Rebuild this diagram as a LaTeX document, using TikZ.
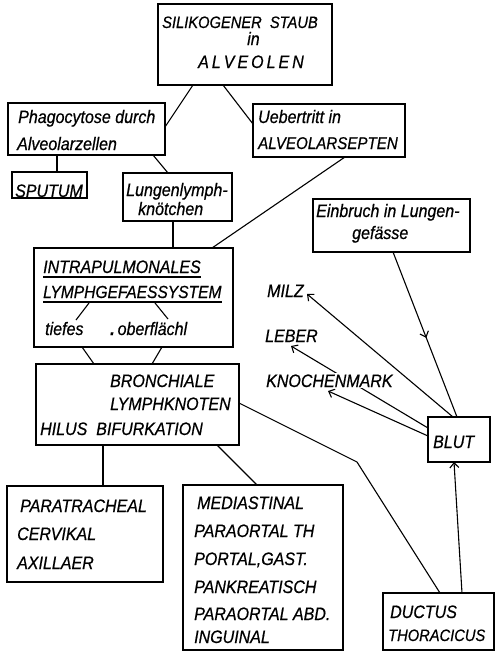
\documentclass[tikz,border=0pt]{standalone}
\usepackage{fontspec}
\setmainfont{Liberation Sans}[FakeStretch=0.89,FakeBold=0.6]
\usetikzlibrary{arrows.meta,decorations.markings,backgrounds}
\begin{document}
\begin{tikzpicture}[x=1pt,y=-1pt,
  box/.style={draw,line width=1.2pt,inner sep=0pt,outer sep=0pt},
  txt/.style={inner sep=0pt,anchor=base west,font=\itshape\fontsize{18}{21}\selectfont},
  lbl/.style={inner sep=0pt,anchor=base west,font=\itshape\fontsize{18}{21}\selectfont},
  con/.style={line width=1.1pt},
  arr/.style={line width=1.1pt,-{Straight Barb[length=5pt,width=9pt]}},
  midarr/.style={line width=1.1pt,postaction={decorate},
    decoration={markings,mark=at position 0.52 with {\arrow{Straight Barb[length=5pt,width=9pt]}}}}]
\begin{pgfonlayer}{background}
\fill[white] (0,0) rectangle (495,651);
\end{pgfonlayer}
\useasboundingbox (0,0) rectangle (495,651);

% boxes
\node[box,minimum width=174pt,minimum height=81pt] (top) at (245,44.5) {};
\node[box,minimum width=157pt,minimum height=52pt] (phago) at (86.5,129) {};
\node[box,minimum width=152pt,minimum height=53pt] (ueber) at (329,130.5) {};
\node[box,minimum width=75pt,minimum height=26pt] (sput) at (49.5,185) {};
\node[box,minimum width=109pt,minimum height=48pt] (lunk) at (177.5,197) {};
\node[box,minimum width=157pt,minimum height=53pt] (einb) at (391.5,225.5) {};
\node[box,minimum width=199pt,minimum height=99pt] (intra) at (133.5,297.5) {};
\node[box,minimum width=203pt,minimum height=81pt] (bron) at (137.5,404.5) {};
\node[box,minimum width=62pt,minimum height=45pt] (blut) at (459,439.5) {};
\node[box,minimum width=156pt,minimum height=96pt] (para) at (85,534) {};
\node[box,minimum width=160pt,minimum height=165pt] (medi) at (263,567.5) {};
\node[box,minimum width=111pt,minimum height=57pt] (duct) at (438.5,621.5) {};

% texts
\node[txt,font=\itshape\fontsize{16.5}{19}\selectfont] (t1) at (162,28) {SILIKOGENER\ \ STAUB};
\node[txt] (t2) at (247,45) {in};
\node[txt] (t3) at (198,68) {A\,L\,V\,E\,O\,L\,E\,N};
\node[txt] (p1) at (18,123) {Phagocytose durch};
\node[txt] (p2) at (17,150) {Alveolarzellen};
\node[txt] (u1) at (258,123) {Uebertritt in};
\node[txt,font=\itshape\fontsize{17}{20}\selectfont] (u2) at (258,149) {ALVEOLARSEPTEN};
\node[txt] (s1) at (15,197) {SPUTUM};
\node[txt] (l1) at (126,196) {Lungenlymph-};
\node[txt] (l2) at (138,215) {knötchen};
\node[txt] (e1) at (316,217) {Einbruch in Lungen-};
\node[txt] (e2) at (352,239) {gefässe};
\node[txt] (ip1) at (43,273) {INTRAPULMONALES};
\node[txt,font=\itshape\fontsize{17.5}{20}\selectfont] (ip2) at (43,298) {LYMPHGEFAESSYSTEM};
\node[txt] (tief) at (45,335) {tiefes};
\node[txt] (ober) at (110,335) {\textbf{.}\,oberflächl};
\node[txt] (b1) at (110,387) {BRONCHIALE};
\node[txt] (b2) at (110,410) {LYMPHKNOTEN};
\node[txt] (b3) at (40,435) {HILUS\ \ BIFURKATION};
\node[txt] (bl) at (433,448) {BLUT};
\node[txt] (pa1) at (20,512) {PARATRACHEAL};
\node[txt] (pa2) at (17,540) {CERVIKAL};
\node[txt] (pa3) at (17,569) {AXILLAER};
\node[txt] (m1) at (197,509) {MEDIASTINAL};
\node[txt] (m2) at (194,537) {PARAORTAL TH};
\node[txt] (m3) at (194,565) {PORTAL,GAST.};
\node[txt] (m4) at (194,593) {PANKREATISCH};
\node[txt] (m5) at (194,620) {PARAORTAL ABD.};
\node[txt] (m6) at (194,643) {INGUINAL};
\node[txt] (d1) at (390,618) {DUCTUS};
\node[txt,font=\itshape\fontsize{16.5}{20}\selectfont] (d2) at (388,641) {THORACICUS};
\node[lbl] (milz) at (267,297) {MILZ};
\node[lbl] (leber) at (265,342) {LEBER};
\node[lbl,fill=white,inner sep=1pt] (knochen) at (265,387) {KNOCHENMARK};

% underlines
\draw[con] ([yshift=-4pt]ip1.base west) -- ([yshift=-4pt]ip1.base east);
\draw[con] ([yshift=-4pt]ip2.base west) -- ([yshift=-4pt]ip2.base east);

% connectors
\draw[con] ([xshift=-52pt]top.south) -- ([yshift=2pt]phago.east);
\draw[con] ([xshift=-22pt]top.south) -- ([yshift=6.5pt]ueber.west);
\draw[con] ([xshift=-29.5pt]phago.south) -- ([xshift=7.5pt]sput.north);
\draw[con] ([xshift=66.5pt]phago.south) -- ([xshift=-9.5pt]lunk.north);
\draw[con] ([xshift=16pt]ueber.south) -- ([xshift=78.5pt]intra.north);
\draw[con] ([xshift=-4.5pt]lunk.south) -- ([xshift=-4.5pt]lunk.south |- intra.north);
\draw[con] ([xshift=46pt,yshift=-5pt]ip2.base west) -- ([xshift=31pt,yshift=15pt]tief.base west);
\draw[con] ([xshift=112pt,yshift=-5pt]ip2.base west) -- ([xshift=58pt,yshift=16pt]ober.base west);
\draw[con] ([xshift=-51.5pt]intra.south) -- ([xshift=-43.5pt]bron.north);
\draw[con] ([xshift=28.5pt]intra.south) -- ([xshift=14.5pt]bron.north);
\draw[con] ([xshift=-34.5pt]bron.south) -- ([xshift=18pt]para.north);
\draw[con] ([xshift=79.5pt]bron.south) -- ([xshift=-6pt]medi.north);
\coordinate (bend) at (357,462);
\draw[con] ([yshift=1.5pt]bron.east) -- (bend) -- ([xshift=1.5pt]duct.north);
\draw[arr] ([xshift=23.5pt]duct.north) -- ([xshift=-5pt]blut.south);
\draw[midarr] ([xshift=1.5pt]einb.south) -- ([xshift=-2pt]blut.north);
\draw[arr] ([xshift=-6pt]blut.north) -- ([xshift=40pt,yshift=3pt]milz.base west);
\draw[arr] ([yshift=3.5pt]blut.west) -- ([xshift=63pt,yshift=-4pt]knochen.base west);
\begin{pgfonlayer}{background}
\draw[arr] ([yshift=11.5pt]blut.west) -- ([xshift=26pt,yshift=-4pt]leber.base west);
\end{pgfonlayer}
\end{tikzpicture}
\end{document}
